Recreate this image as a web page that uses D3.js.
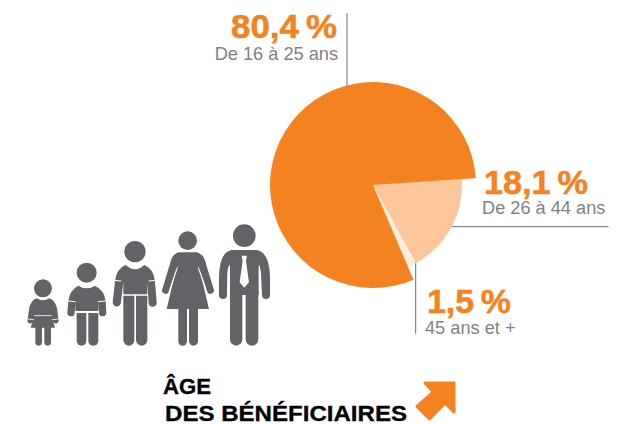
<!DOCTYPE html>
<html><head><meta charset="utf-8">
<script src="https://cdn.jsdelivr.net/npm/d3@7"></script>
<style>html,body{margin:0;background:#fff}svg{display:block}text{font-family:"Liberation Sans",Arial,sans-serif}</style>
</head><body><svg id="c" width="627" height="425"></svg>
<script>
const categories = ["De 26 à 44 ans", "45 ans et +", "De 16 à 25 ans"];
const values = [18.1, 1.5, 80.4];
const valueLabels = ["18,1\u2009%", "1,5\u2009%", "80,4\u2009%"];
const sliceColors = ["#fdc79b", "#feeede", "#f58220"];
const sliceRadii = [89, 89, 103];
const titleLines = ["ÂGE", "DES BÉNÉFICIAIRES"];

const svg = d3.select("#c");
const ORANGE = "#f58220", GREY = "#626366", LINE = "#6d6e71", SUB = "#808285";
const cx = 373, cy = 185;

// leader lines (behind the pie)
const leaders = [[347,13,347,90],[450,226.7,608.5,226.7],[415.7,258,415.7,333.5]];
svg.append("g").selectAll("line").data(leaders).join("line")
  .attr("x1",d=>d[0]).attr("y1",d=>d[1]).attr("x2",d=>d[2]).attr("y2",d=>d[3])
  .attr("stroke",LINE).attr("stroke-width",1);

// pie
const start = 86.25 * Math.PI / 180;
const pie = d3.pie().sort(null).startAngle(start).endAngle(start + 2*Math.PI);
const arcs = pie(values);
const arc = d3.arc().innerRadius(0);
svg.append("g").attr("transform",`translate(${cx},${cy})`)
  .selectAll("path").data(arcs).join("path")
  .attr("d",(d,i)=>arc.outerRadius(sliceRadii[i])(d))
  .attr("fill",(d,i)=>sliceColors[i]);

// labels
const labelPos = [
  {x:484,y:193.5,w:104,sx:482,sy:214,a:"start"},
  {x:427,y:312.5,w:84,sx:425,sy:334,a:"start"},
  {x:231,y:37.5,w:106,sx:338,sy:60,a:"end"}];
const lab = svg.append("g");
labelPos.forEach((p,i)=>{
  lab.append("text").attr("x",p.x).attr("y",p.y)
    .attr("font-size",33).attr("font-weight",700).attr("fill",ORANGE)
    .attr("stroke",ORANGE).attr("stroke-width",0.5)
    .attr("textLength",p.w).attr("lengthAdjust","spacingAndGlyphs").text(valueLabels[i]);
  lab.append("text").attr("x",p.sx).attr("y",p.sy).attr("text-anchor",p.a)
    .attr("font-size",18.2).attr("fill",SUB).text(categories[i]);
});

// title
svg.append("g").selectAll("text").data(titleLines).join("text")
  .attr("x",(d,i)=>i?165:163).attr("y",(d,i)=>i?420.5:394)
  .attr("font-size",21.5).attr("font-weight",700).attr("fill","#000")
  .attr("stroke","#000").attr("stroke-width",0.3)
  .attr("textLength",(d,i)=>i?242:48).attr("lengthAdjust","spacingAndGlyphs").text(d=>d);

// arrow
svg.append("path")
  .attr("d","M425 383 L454 383 L454 412 L445 403 L429.5 419 L417 406.5 L433.5 392 Z")
  .attr("fill",ORANGE).attr("stroke",ORANGE).attr("stroke-width",3).attr("stroke-linejoin","round");

// people, drawn in a 3x space
const ppl = svg.append("g").attr("transform","translate(15,215) scale(0.3333)");
const P = (d,f=GREY)=>ppl.append("path").attr("d",d).attr("fill",f);
const C = (x,y,r)=>ppl.append("circle").attr("cx",x).attr("cy",y).attr("r",r).attr("fill",GREY);
const W = (d,w=5)=>ppl.append("path").attr("d",d).attr("fill","none").attr("stroke","#fff").attr("stroke-width",w).attr("stroke-linecap","round");
const leg = (x1,x2,top,bot)=>{const r=(x2-x1)/2;P(`M${x1} ${top}L${x2} ${top}L${x2} ${bot-r}A${r} ${r} 0 0 1 ${x1} ${bot-r}Z`)};

// man
C(688,62,34);
P("M650 105 L725 105 Q765 112 765 190 L765 240 A12 12 0 0 1 741 240 L738 175 Q735 150 731 150 L731 240 L645 240 L645 150 Q640 150 637 175 L636 240 A12 12 0 0 1 612 240 L612 190 Q612 112 650 105Z");
leg(645,682,230,392); leg(692,730,230,392);
P("M680 122 L696 122 L693 138 L702 202 L688 218 L674 202 L683 138Z","#fff");
// woman
C(518,77,28);
P("M490 112 L546 112 Q568 118 574 150 L596 222 A10 10 0 0 1 577 230 L553 160 L582 282 L455 282 L484 160 L461 230 A10 10 0 0 1 442 222 L464 150 Q470 118 490 112Z");
leg(490,516,275,392); leg(522,549,275,392);
W("M487 158 L466 222",3); W("M550 158 L572 222",3);
// boy 3
C(360,110,32);
P("M332 150 Q360 175 388 150 Q416 160 420 200 L425 262 A12 12 0 0 1 401 264 L397 200 L397 238 L325 238 L325 200 L318 262 A12 12 0 0 1 293 262 L300 200 Q304 160 332 150Z");
leg(325,358,242,392); leg(363,397,242,392);
W("M299 196 L318 198",3); W("M402 198 L421 196",3);
// boy 2
C(215,173,30);
P("M190 212 Q215 228 240 212 Q268 225 272 258 L274 292 A11 11 0 0 1 252 294 L250 262 L250 288 L181 288 L181 262 L179 294 A11 11 0 0 1 157 292 L160 258 Q164 225 190 212Z");
leg(185,214,294,392); leg(220,250,294,392);
W("M160 258 L180 260",3); W("M250 260 L271 258",3);
// girl
C(84,220,27);
P("M65 250 Q84 262 103 250 Q122 256 127 285 L131 318 A9 9 0 0 1 114 320 L109 300 L120 338 L47 338 L59 300 L54 320 A9 9 0 0 1 37 318 L42 285 Q46 256 65 250Z");
leg(61,81,334,392); leg(88,108,334,392);
W("M59 302 L109 302",2.5); W("M39 312 L55 314",2.5); W("M113 314 L130 312",2.5);
</script></body></html>
